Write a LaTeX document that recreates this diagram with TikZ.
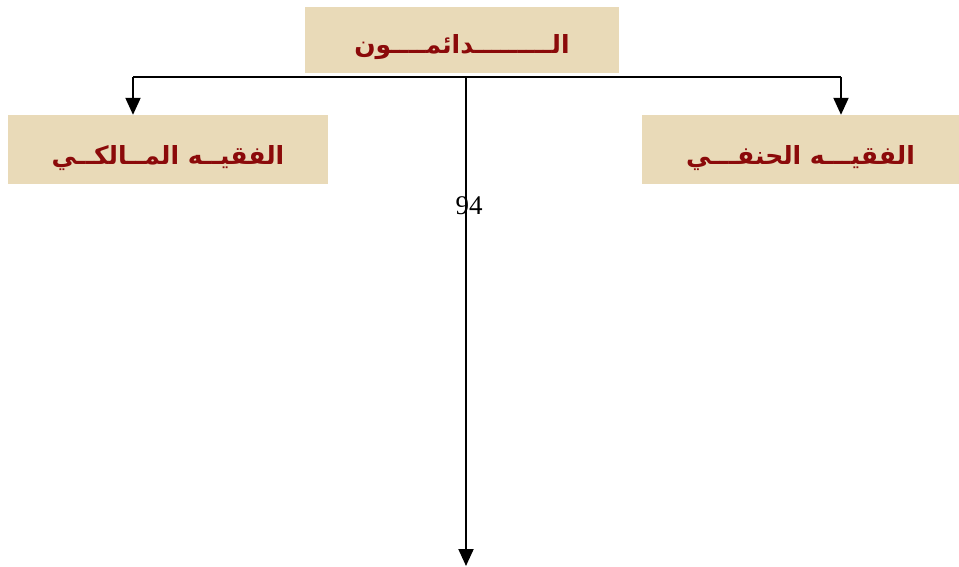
\documentclass[tikz,border=0pt]{standalone}
\usepackage{fontspec}
\setmainfont{Liberation Serif}
\newfontfamily\arabicfont[Script=Arabic]{DejaVu Sans}
\TeXXeTstate=1
\usetikzlibrary{arrows.meta}
\definecolor{parch}{HTML}{E9DAB8}
\definecolor{darkred}{HTML}{8B0A0A}
\tikzset{
  box/.style={fill=parch, draw=none, inner sep=0pt},
  boxtext/.style={inner sep=0pt, text=darkred, font=\arabicfont\bfseries\fontsize{25}{28}\selectfont},
  conn/.style={line width=2pt, -{Triangle[width=15pt,length=17pt]}},
  plain/.style={line width=2pt}
}
\begin{document}
\begin{tikzpicture}[x=1pt,y=1pt]
\fill[white] (0,0) rectangle (959,-566);
\useasboundingbox (0,0) rectangle (959,-566);
\node[box, minimum width=314pt, minimum height=66pt] (top) at (462,-40) {};
\node[box, minimum width=320pt, minimum height=69pt] (left) at (168,-149.5) {};
\node[box, minimum width=317pt, minimum height=69pt] (right) at (800.5,-149.5) {};
\node[boxtext] (toptext) at ([yshift=-7pt]top.center) {\beginR الـــــــــدائمــــون\endR};
\node[boxtext] (lefttext) at ([yshift=-9pt]left.center) {\beginR الفقيــه المــالكــي\endR};
\node[boxtext] (righttext) at ([yshift=-9pt]right.center) {\beginR الفقيـــه الحنفـــي\endR};
\coordinate (jl) at (133,-77);
\coordinate (jr) at (841,-77);
\coordinate (jc) at (466,-77);
\coordinate (end) at (466,-566);
\draw[plain] (jl) -- (jr);
\draw[conn] (jl) -- (jl |- left.north);
\draw[conn] (jr) -- (jr |- right.north);
\draw[conn] (jc) -- (end);
\node[font=\fontsize{27}{30}\selectfont, inner sep=0pt] (num) at (469,-206) {94};
\end{tikzpicture}
\end{document}
